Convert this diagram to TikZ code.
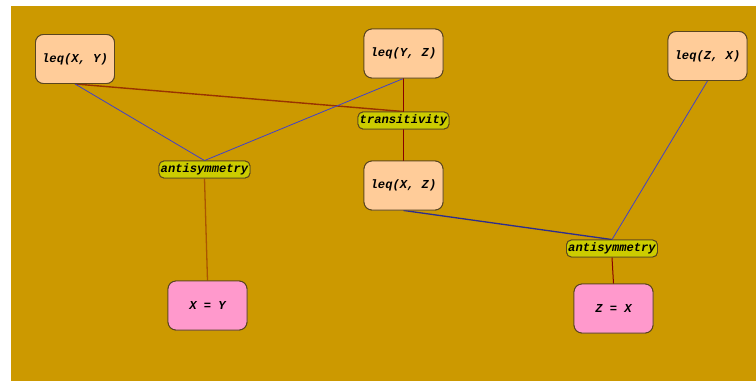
\documentclass[tikz,border=0pt]{standalone}
\usepackage{fontspec}
\setmonofont{Liberation Mono}
\begin{document}
\definecolor{canvas}{HTML}{CC9900}
\definecolor{factfill}{HTML}{FFCC99}
\definecolor{goalfill}{HTML}{FF99CC}
\definecolor{rulefill}{HTML}{CCCC00}
\definecolor{edgeline}{HTML}{5A4520}
\definecolor{premise}{HTML}{4040CC}
\definecolor{chainline}{HTML}{993300}
\definecolor{concl}{HTML}{880000}
\definecolor{derive}{HTML}{AA5500}
\tikzset{
  lbl/.style={font=\ttfamily\bfseries\itshape\fontsize{12.2}{13}\selectfont, text=black, inner sep=0pt},
  fact/.style={lbl, draw=edgeline, line width=0.9bp, fill=factfill, rounded corners=8bp,
    minimum width=79bp, minimum height=49bp},
  goal/.style={fact, fill=goalfill},
  rule/.style={lbl, draw=edgeline, line width=0.9bp, fill=rulefill, rounded corners=5bp,
    minimum width=91bp, minimum height=17bp},
  blueedge/.style={draw=premise, line width=0.8bp},
  brownedge/.style={draw=chainline, line width=1.4bp},
  rededge/.style={draw=concl, line width=1bp},
  orangeedge/.style={draw=derive, line width=1.3bp},
}
\begin{tikzpicture}[x=1bp,y=-1bp]
  \useasboundingbox (0,0) rectangle (756,381);
  \fill[canvas] (11,6) rectangle (756,381);

  % placeholders fix the node positions; the boxes are filled in last
  \coordinate (lxy) at (75,59);
  \coordinate (lyz) at (403.5,53.5);
  \coordinate (lzx) at (707.5,56);
  \coordinate (lxz) at (403.5,185.5);
  \coordinate (trans) at (403.5,120.5);
  \coordinate (antiL) at (204.5,169.5);
  \coordinate (antiR) at (612,248.5);
  \coordinate (xy) at (207.5,305.5);
  \coordinate (zx) at (613.5,308.5);

  % premises and derived facts
  \node[fact] (lxy) at (lxy) {leq(X, Y)};
  \node[fact] (lyz) at (lyz) {leq(Y, Z)};
  \node[fact] (lzx) at (lzx) {leq(Z, X)};
  \node[fact] (lxz) at (lxz) {leq(X, Z)};

  % inference rules
  \node[rule] (trans) at (trans) {transitivity};
  \node[rule] (antiL) at (antiL) {antisymmetry};
  \node[rule] (antiR) at (antiR) {antisymmetry};

  % conclusions
  \node[goal] (xy) at (xy) {X = Y};
  \node[goal] (zx) at (zx) {Z = X};

  % connectors
  \path[brownedge] (lxy.south) -- (trans.north);
  \path[blueedge] (lxy.south) -- (antiL.north);
  \path[blueedge] (lyz.south) -- (antiL.north);
  \path[rededge] (lyz.south) -- (trans.north);
  \path[rededge] (trans.south) -- (lxz.north);
  \path[orangeedge] (antiL.south) -- (xy.north);
  \path[blueedge, line width=1.3bp, draw=premise!70!black] (lxz.south) -- (antiR.north);
  \path[blueedge] (lzx.south) -- (antiR.north);
  \path[rededge] (antiR.south) -- (zx.north);

  % boxes drawn again on top of the connector ends
  \node[fact] at (lxy) {leq(X, Y)};
  \node[fact] at (lyz) {leq(Y, Z)};
  \node[fact] at (lzx) {leq(Z, X)};
  \node[fact] at (lxz) {leq(X, Z)};
  \node[rule] at (trans) {transitivity};
  \node[rule] at (antiL) {antisymmetry};
  \node[rule] at (antiR) {antisymmetry};
  \node[goal] at (xy) {X = Y};
  \node[goal] at (zx) {Z = X};
\end{tikzpicture}
\end{document}
